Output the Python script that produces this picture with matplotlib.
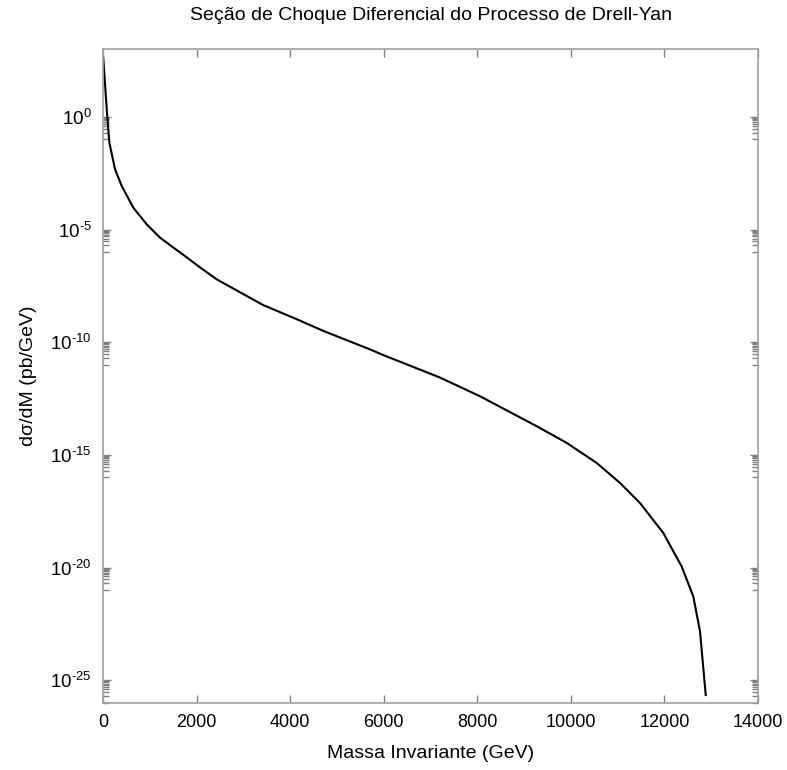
import numpy as np
import matplotlib
matplotlib.use('Agg')
import matplotlib.pyplot as plt
from matplotlib.ticker import FixedLocator, FuncFormatter

plt.rcParams['font.family'] = ['Liberation Sans', 'DejaVu Sans']
plt.rcParams['mathtext.fontset'] = 'custom'
plt.rcParams['mathtext.rm'] = 'Liberation Sans'

# invariant mass (GeV) and log10 of dsigma/dM (pb/GeV)
mass = [6, 79, 135, 256, 400, 648, 934, 1218, 1503, 1716, 2073, 2430,
        3142, 3420, 4140, 4709, 5707, 6000, 7203, 8058, 9270, 9911,
        10552, 11051, 11478, 11976, 12369, 12617, 12760, 12882]
log_dsdm = [2.6, 0.34, -1.14, -2.32, -3.07, -4.03, -4.77, -5.36, -5.8,
            -6.12, -6.68, -7.21, -8.03, -8.35, -8.98, -9.5, -10.32,
            -10.58, -11.57, -12.4, -13.73, -14.47, -15.36, -16.25,
            -17.14, -18.47, -19.96, -21.29, -22.84, -25.66]

major_exp = [0, -5, -10, -15, -20, -25]
x_ticks = [0, 2000, 4000, 6000, 8000, 10000, 12000, 14000]

dsdm = 10.0 ** np.array(log_dsdm)

fig = plt.figure(figsize=(7.87, 7.70), dpi=100)
ax = fig.add_axes([0.1309, 0.0874, 0.8323, 0.8486])

ax.plot(mass, dsdm, color='black', lw=1.5)

ax.set_yscale('log')
ax.set_xlim(0, 14000)
ax.set_ylim(1e-26, 1e3)

ax.xaxis.set_major_locator(FixedLocator(x_ticks))
ax.yaxis.set_major_locator(FixedLocator([10.0 ** e for e in major_exp]))
minors = [10.0 ** e * m / 10 for e in major_exp for m in range(1, 10)]
ax.yaxis.set_minor_locator(FixedLocator(minors))


def exp_label(v, p):
    e = int(round(np.log10(v)))
    if e < 0:
        return r'$\mathregular{10^{\text{-}%d}}$' % (-e)
    return r'$\mathregular{10^{%d}}$' % e


ax.yaxis.set_major_formatter(FuncFormatter(exp_label))
ax.yaxis.set_minor_formatter(FuncFormatter(lambda v, p: ''))

for s in ax.spines.values():
    s.set_color('#a0a0a0')
    s.set_linewidth(1.2)

ax.tick_params(which='both', direction='in', top=True, right=True,
               color='#808080', labelsize=13, pad=8)
ax.tick_params(axis='y', which='major', labelsize=13.5)
ax.tick_params(which='major', length=6, width=1)
ax.tick_params(which='minor', length=4, width=1)

ax.set_xlabel('Massa Invariante (GeV)', fontsize=14, labelpad=10)
ax.set_ylabel('dσ/dM (pb/GeV)', fontsize=14, labelpad=10)
ax.set_title('Seção de Choque Diferencial do Processo de Drell-Yan',
             fontsize=14, pad=21)

fig.savefig('out.png', dpi=100)
